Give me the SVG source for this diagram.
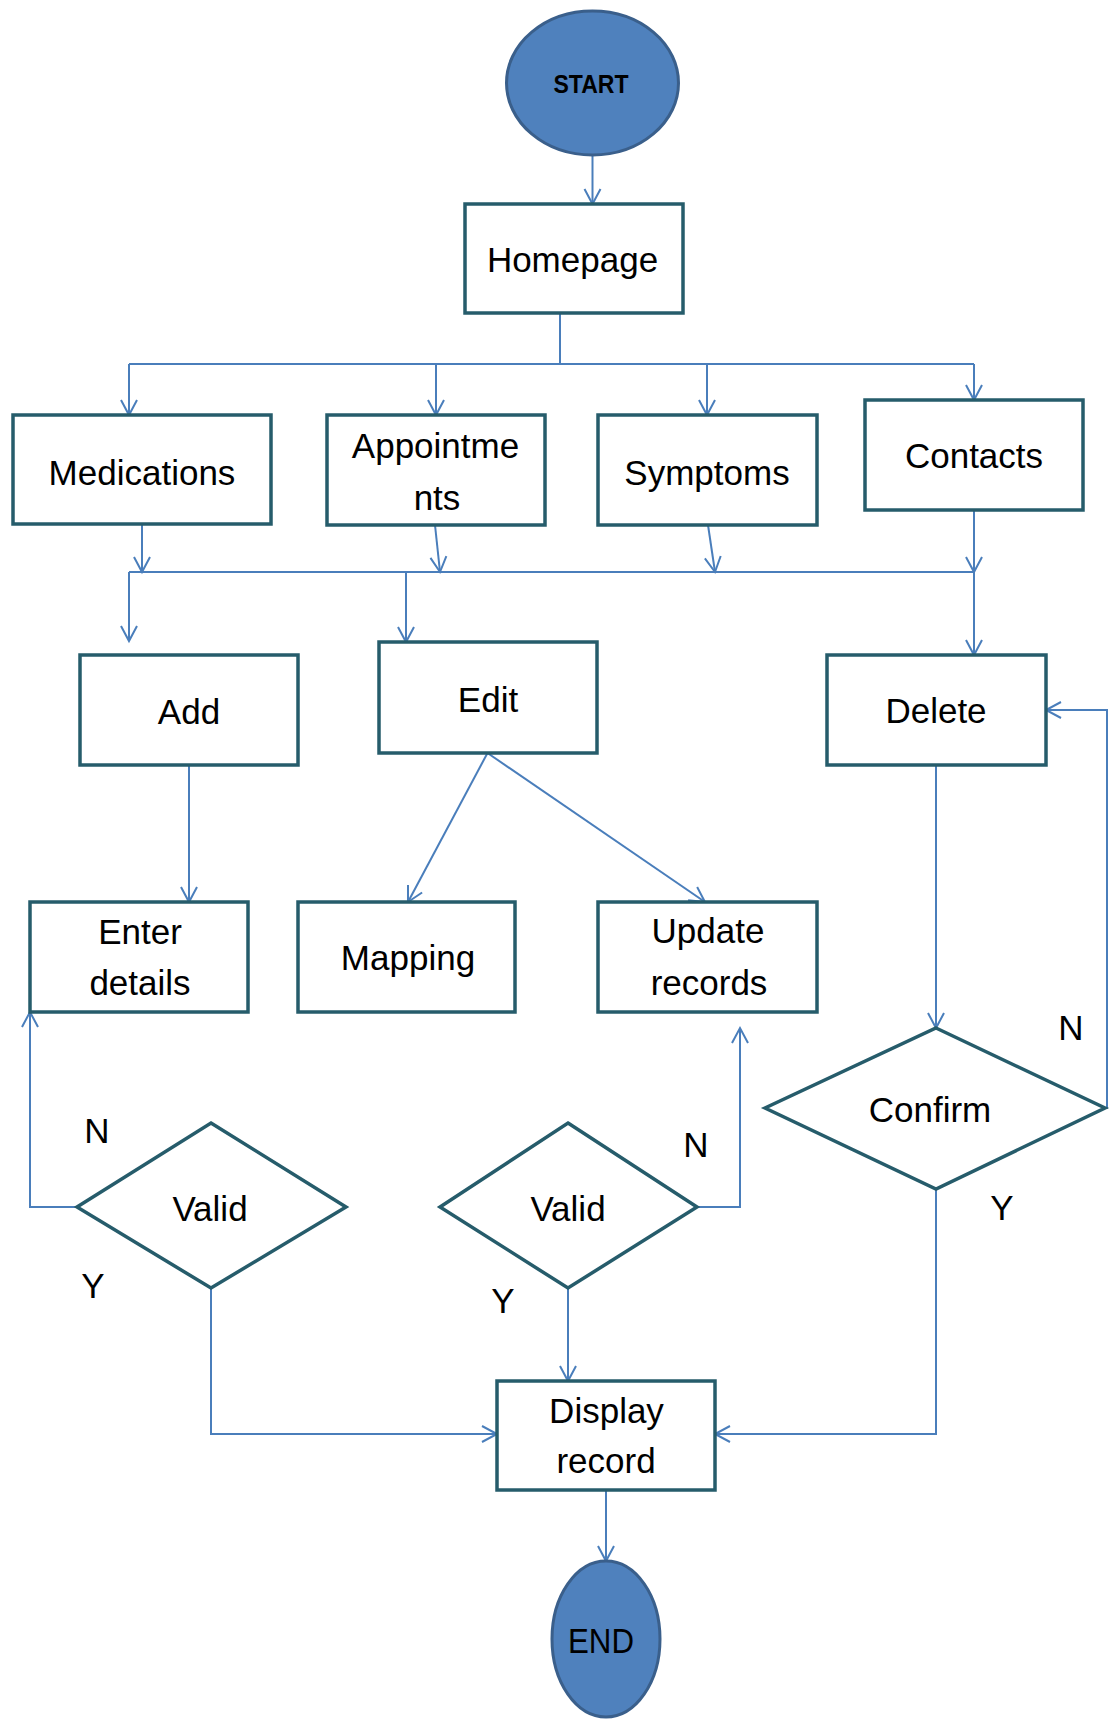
<svg xmlns="http://www.w3.org/2000/svg" width="1116" height="1719" viewBox="0 0 1116 1719">
  <defs>
    <marker id="arrow" markerUnits="userSpaceOnUse" markerWidth="20" markerHeight="20" viewBox="-17 -10 20 20" refX="0" refY="0" orient="auto">
      <path d="M-15,-8 L0,0 L-15,8" fill="none" stroke="#4A7EBB" stroke-width="2"/>
    </marker>
    <style>
      .box { fill: #ffffff; stroke: #265C6B; stroke-width: 3.5; }
      .term { fill: #4F81BD; stroke: #3A5F8B; stroke-width: 3; }
      .conn { fill: none; stroke: #4A7EBB; stroke-width: 2; }
      .conn.arr { marker-end: url(#arrow); }
      text { font-family: "Liberation Sans", Arial, sans-serif; font-size: 35px; fill: #000000; text-anchor: middle; }
      .bold { font-weight: bold; font-size: 25px; }
    </style>
  </defs>
  <rect x="0" y="0" width="1116" height="1719" fill="#ffffff"/>

  <!-- connectors -->
  <g id="connectors">
    <path class="conn arr" d="M592.5,155 V204"/>
    <path class="conn" d="M560,313 V364"/>
    <path class="conn" d="M129,364 H974"/>
    <path class="conn arr" d="M129,364 V415"/>
    <path class="conn arr" d="M436,364 V415"/>
    <path class="conn arr" d="M707,364 V415"/>
    <path class="conn arr" d="M974,364 V400"/>

    <path class="conn arr" d="M142,524 V572"/>
    <path class="conn arr" d="M435,525 L440,572"/>
    <path class="conn arr" d="M708,525 L715,572"/>
    <path class="conn arr" d="M974,510 V572"/>
    <path class="conn" d="M129,572 H974"/>
    <path class="conn arr" d="M129,572 V641"/>
    <path class="conn arr" d="M406,572 V642"/>
    <path class="conn arr" d="M974,572 V655"/>

    <path class="conn arr" d="M189,765 V902"/>
    <path class="conn arr" d="M487.5,753 L408,902"/>
    <path class="conn arr" d="M487.5,753 L705,902"/>
    <path class="conn arr" d="M936,765 V1028"/>

    <path class="conn arr" d="M1105,1108 H1107 V710 H1046"/>
    <path class="conn arr" d="M936,1189 V1434 H715"/>
    <path class="conn arr" d="M77,1207 H30 V1012"/>
    <path class="conn arr" d="M211,1288 V1434 H497"/>
    <path class="conn arr" d="M697,1207 H740 V1028"/>
    <path class="conn arr" d="M568,1288 V1381"/>
    <path class="conn arr" d="M606,1490 V1561"/>
  </g>

  <!-- nodes -->
  <g id="start">
    <ellipse class="term" cx="592.5" cy="83" rx="86" ry="72"/>
    <text class="bold" x="591" y="93" textLength="75" lengthAdjust="spacingAndGlyphs">START</text>
  </g>
  <g id="homepage">
    <rect class="box" x="465" y="204" width="218" height="109"/>
    <text x="572.5" y="272">Homepage</text>
  </g>
  <g id="medications">
    <rect class="box" x="13" y="415" width="258" height="109"/>
    <text x="142" y="485">Medications</text>
  </g>
  <g id="appointments">
    <rect class="box" x="327" y="415" width="218" height="110"/>
    <text x="435.5" y="458">Appointme</text>
    <text x="437" y="510">nts</text>
  </g>
  <g id="symptoms">
    <rect class="box" x="598" y="415" width="219" height="110"/>
    <text x="707" y="485">Symptoms</text>
  </g>
  <g id="contacts">
    <rect class="box" x="865" y="400" width="218" height="110"/>
    <text x="974" y="468">Contacts</text>
  </g>
  <g id="add">
    <rect class="box" x="80" y="655" width="218" height="110"/>
    <text x="189" y="724">Add</text>
  </g>
  <g id="edit">
    <rect class="box" x="379" y="642" width="218" height="111"/>
    <text x="488" y="712">Edit</text>
  </g>
  <g id="delete">
    <rect class="box" x="827" y="655" width="219" height="110"/>
    <text x="936" y="723">Delete</text>
  </g>
  <g id="enter-details">
    <rect class="box" x="30" y="902" width="218" height="110"/>
    <text x="140" y="944">Enter</text>
    <text x="140" y="995">details</text>
  </g>
  <g id="mapping">
    <rect class="box" x="298" y="902" width="217" height="110"/>
    <text x="408" y="970">Mapping</text>
  </g>
  <g id="update-records">
    <rect class="box" x="598" y="902" width="219" height="110"/>
    <text x="708" y="943">Update</text>
    <text x="709" y="995">records</text>
  </g>
  <g id="valid-add">
    <polygon class="box" points="211,1123 346,1207 211,1288 77,1207"/>
    <text x="210" y="1221">Valid</text>
  </g>
  <g id="valid-update">
    <polygon class="box" points="568,1123 697,1207 568,1288 440,1207"/>
    <text x="568" y="1221">Valid</text>
  </g>
  <g id="confirm">
    <polygon class="box" points="936,1028 1105,1108 936,1189 765,1108"/>
    <text x="930" y="1122">Confirm</text>
  </g>
  <g id="display-record">
    <rect class="box" x="497" y="1381" width="218" height="109"/>
    <text x="606.5" y="1423">Display</text>
    <text x="606" y="1473">record</text>
  </g>
  <g id="end">
    <ellipse class="term" cx="606" cy="1639" rx="54" ry="78"/>
    <text x="601" y="1653" textLength="66" lengthAdjust="spacingAndGlyphs">END</text>
  </g>

  <!-- branch labels -->
  <g id="labels">
    <text x="97" y="1143">N</text>
    <text x="93" y="1298">Y</text>
    <text x="696" y="1157">N</text>
    <text x="503" y="1313">Y</text>
    <text x="1071" y="1040">N</text>
    <text x="1002" y="1220">Y</text>
  </g>
</svg>
